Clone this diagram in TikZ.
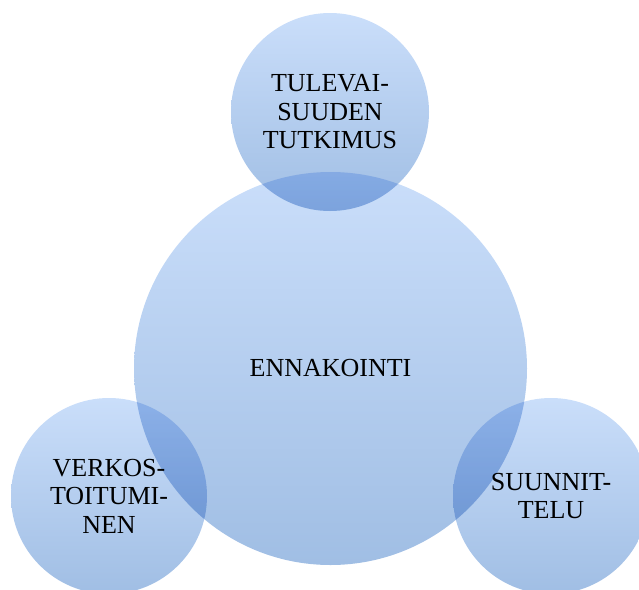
\documentclass[tikz,border=0pt]{standalone}
\usepackage{fontspec}
\setmainfont{Liberation Serif}
\definecolor{bubtop}{RGB}{202,222,250}
\definecolor{bubbot}{RGB}{160,190,228}
\begin{document}
\begin{tikzpicture}[x=1pt,y=-1pt]
\tikzset{bubble/.style={circle, inner sep=0pt, top color=bubtop, bottom color=bubbot, draw=none, align=center, font=\fontsize{26}{28.5}\selectfont}}
\useasboundingbox (0,0) rectangle (639,589);
\clip (0,0) rectangle (639,589);
\begin{scope}[blend mode=multiply]
\node[bubble, minimum size=198pt] (fut) at (330,112) {TULEVAI-\\SUUDEN\\TUTKIMUS};
\node[bubble, minimum size=393pt] (enn) at (330.5,368.5) {ENNAKOINTI};
\node[bubble, minimum size=196pt] (net) at (109,496) {VERKOS-\\TOITUMI-\\NEN};
\node[bubble, minimum size=196pt] (plan) at (551,496) {SUUNNIT-\\TELU};
\end{scope}
\end{tikzpicture}
\end{document}
